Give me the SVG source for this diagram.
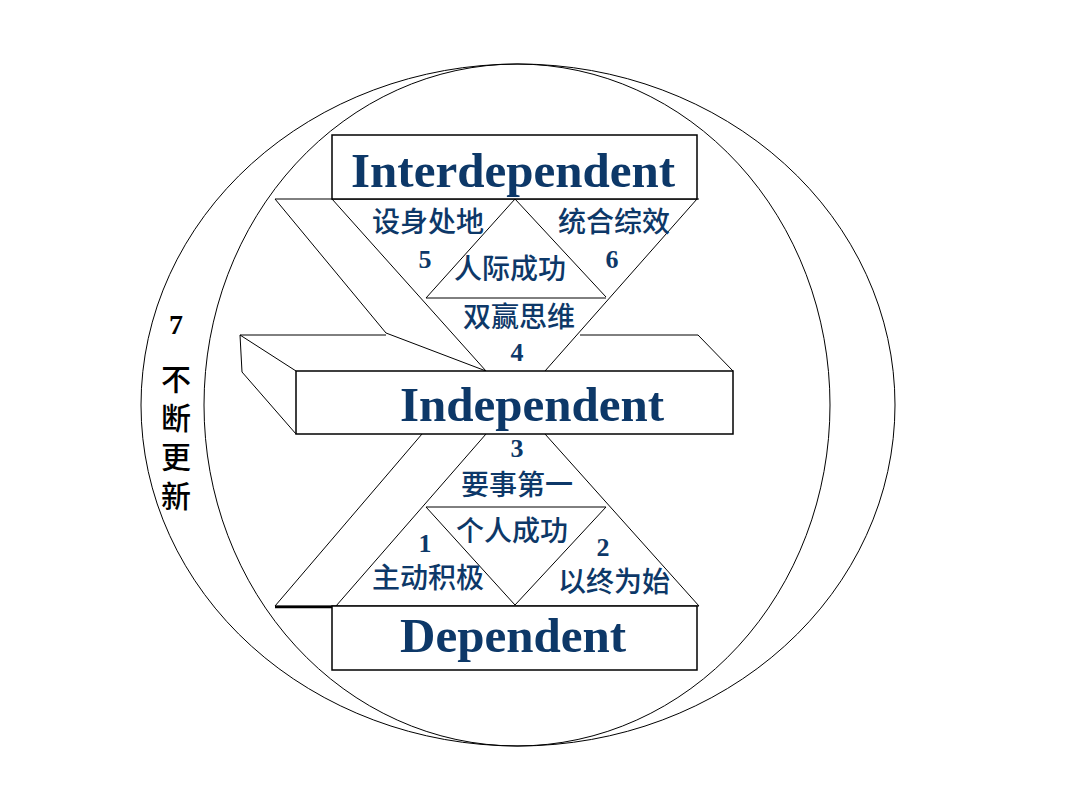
<svg xmlns="http://www.w3.org/2000/svg" width="1080" height="810" viewBox="0 0 1080 810">
<style>
.ln{fill:none;stroke:#000;stroke-width:1}
.bx{fill:#fff;stroke:#000;stroke-width:1.5}
.en{font-family:"Liberation Serif",serif;font-weight:bold;fill:#0d3868;text-anchor:middle}
.cj{font-family:"Noto Sans CJK SC",sans-serif;font-size:28px;font-weight:500;fill:#0d3868;text-anchor:middle}
.num{font-family:"Liberation Serif",serif;font-weight:bold;font-size:26px;fill:#0d3868;text-anchor:middle}
.blk{font-family:"Noto Sans CJK SC",sans-serif;font-size:30px;font-weight:500;fill:#000;text-anchor:middle}
</style>
<rect width="1080" height="810" fill="#fff"/>
<g id="connectors">
<ellipse class="ln" cx="518" cy="405" rx="377" ry="341"/>
<ellipse class="ln" cx="517" cy="405" rx="313" ry="341"/>
<polyline class="ln" points="275,199 386,333 486,371"/>
<line class="ln" x1="332" y1="199" x2="486" y2="371"/>
<line class="ln" x1="697" y1="199" x2="545" y2="371"/>
<polyline class="ln" points="426,298 515,199 606,297"/>
<line class="ln" x1="426" y1="298" x2="606" y2="298"/>
<line class="ln" x1="275" y1="199" x2="699" y2="199"/>
<line class="ln" x1="422" y1="434" x2="275" y2="606"/>
<line class="ln" x1="486" y1="434" x2="336" y2="606"/>
<line class="ln" x1="545" y1="434" x2="699" y2="606"/>
<line class="ln" x1="426" y1="507" x2="606" y2="507"/>
<polyline class="ln" points="426,507 515,605 606,507"/>
<line class="ln" x1="275" y1="606" x2="699" y2="606"/>
<line x1="275" y1="607" x2="340" y2="607" stroke="#000" stroke-width="2.5"/>
</g>
<g id="interdependent">
<rect class="bx" x="332" y="135" width="365" height="64"/>
<text class="en" x="513" y="187" font-size="49">Interdependent</text>
</g>
<g id="independent">
<polyline class="ln" points="240,335 386,335" stroke-width="2.5"/>
<polyline class="ln" points="580,335 698,335 733,371" stroke-width="2"/>
<polyline class="ln" points="240,335 242,372 296,434"/>
<line class="ln" x1="240" y1="335" x2="296" y2="371"/>
<rect class="bx" x="296" y="371" width="437" height="63"/>
<text class="en" x="532" y="421" font-size="49">Independent</text>
</g>
<g id="dependent">
<rect class="bx" x="332" y="606" width="365" height="64"/>
<text class="en" x="513" y="652" font-size="49">Dependent</text>
</g>
<g id="labels">
<text class="cj" x="428" y="232">设身处地</text>
<text class="cj" x="614" y="232">统合综效</text>
<text class="num" x="425" y="268">5</text>
<text class="num" x="612" y="268">6</text>
<text class="cj" x="510" y="279">人际成功</text>
<text class="cj" x="519" y="327">双赢思维</text>
<text class="num" x="517" y="361">4</text>
<text class="num" x="517" y="457">3</text>
<text class="cj" x="517" y="495">要事第一</text>
<text class="cj" x="512" y="541">个人成功</text>
<text class="num" x="425" y="552">1</text>
<text class="num" x="603" y="556">2</text>
<text class="cj" x="428" y="588">主动积极</text>
<text class="cj" x="614" y="592">以终为始</text>
</g>
<g id="renewal">
<text x="176" y="334" font-family="Liberation Serif,serif" font-weight="bold" font-size="28" text-anchor="middle">7</text>
<text class="blk" x="176" y="390">不</text>
<text class="blk" x="176" y="429">断</text>
<text class="blk" x="176" y="468">更</text>
<text class="blk" x="176" y="507">新</text>
</g>
</svg>
